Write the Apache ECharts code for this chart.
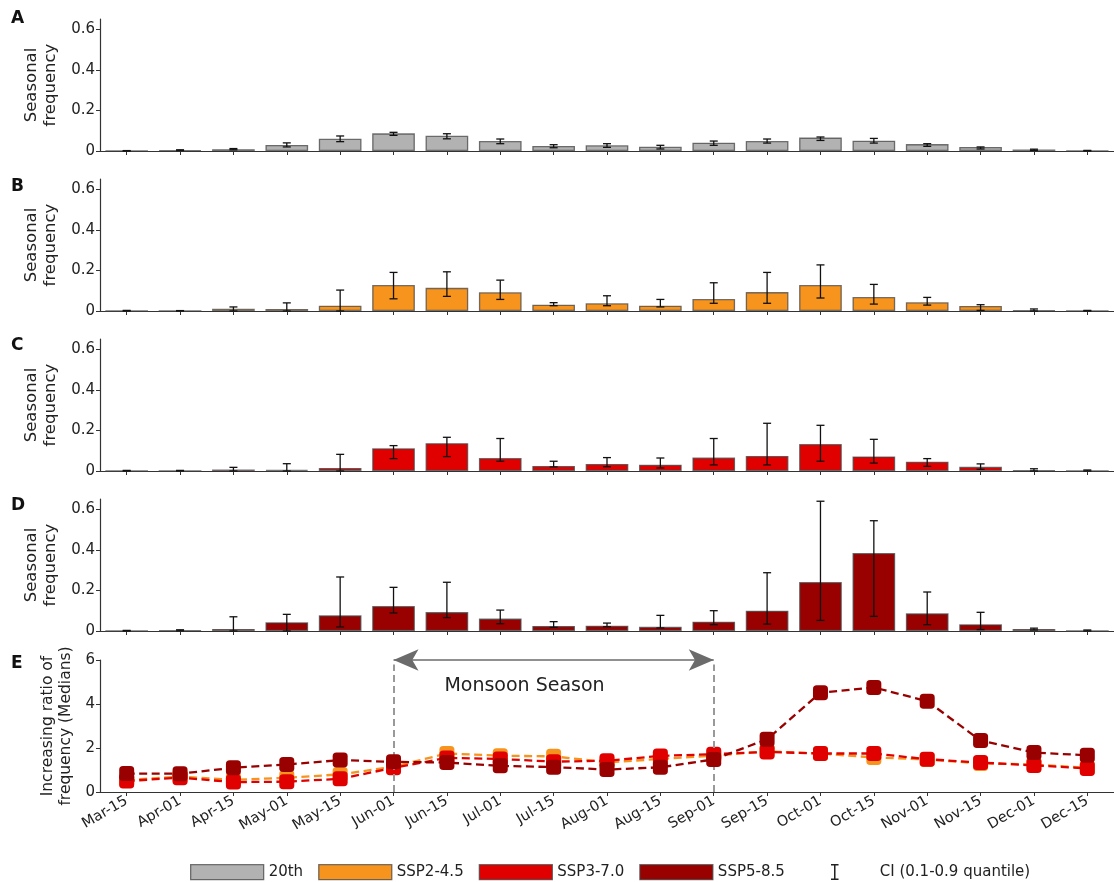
<!DOCTYPE html>
<html>
<head>
<meta charset="utf-8">
<script src="https://cdn.jsdelivr.net/npm/echarts@6/dist/echarts.min.js"></script>
<style>
html,body{margin:0;padding:0;background:#fff;}
#chart{width:1114px;height:882px;}
</style>
</head>
<body>
<div id="chart"></div>
<script>
const categories = ['Mar-15','Apr-01','Apr-15','May-01','May-15','Jun-01','Jun-15','Jul-01','Jul-15','Aug-01','Aug-15','Sep-01','Sep-15','Oct-01','Oct-15','Nov-01','Nov-15','Dec-01','Dec-15'];

// Panel A: 20th century
const med20th  = [0.001,0.004,0.009,0.030,0.060,0.087,0.075,0.049,0.025,0.028,0.021,0.041,0.049,0.066,0.051,0.034,0.020,0.007,0.002];
const low20th  = [0,0.002,0.006,0.020,0.046,0.077,0.060,0.036,0.016,0.018,0.010,0.028,0.039,0.052,0.039,0.023,0.010,0.003,0];
const high20th = [0.002,0.006,0.012,0.040,0.074,0.092,0.085,0.059,0.031,0.036,0.028,0.049,0.059,0.069,0.062,0.036,0.020,0.009,0.003];

// Panel B: SSP2-4.5
const med245  = [0,0,0.011,0.010,0.026,0.128,0.114,0.092,0.031,0.038,0.026,0.059,0.093,0.128,0.069,0.043,0.025,0.003,0.001];
const low245  = [0,0,0,0,0,0.060,0.072,0.057,0.026,0.026,0.020,0.038,0.038,0.064,0.034,0.029,0.003,0,0];
const high245 = [0.003,0.002,0.020,0.040,0.103,0.190,0.193,0.152,0.041,0.075,0.057,0.139,0.190,0.227,0.131,0.067,0.031,0.010,0.003];

// Panel C: SSP3-7.0
const med370  = [0,0,0.008,0.005,0.015,0.112,0.137,0.064,0.025,0.035,0.031,0.066,0.074,0.133,0.072,0.046,0.021,0.003,0];
const low370  = [0,0,0,0,0,0.061,0.071,0.048,0.020,0.021,0.015,0.030,0.030,0.048,0.039,0.023,0.008,0,0];
const high370 = [0.003,0.003,0.018,0.036,0.082,0.125,0.166,0.160,0.048,0.066,0.064,0.160,0.235,0.225,0.156,0.061,0.035,0.011,0.005];

// Panel D: SSP5-8.5
const med585  = [0,0.003,0.010,0.043,0.077,0.123,0.093,0.061,0.025,0.026,0.021,0.046,0.100,0.241,0.384,0.087,0.033,0.010,0];
const low585  = [0,0.001,0,0,0.020,0.089,0.066,0.036,0.018,0.021,0.015,0.031,0.034,0.052,0.072,0.031,0.007,0.005,0];
const high585 = [0.003,0.006,0.070,0.082,0.266,0.215,0.240,0.103,0.046,0.039,0.077,0.100,0.287,0.639,0.543,0.192,0.092,0.014,0.005];

// Panel E: increasing ratio of frequency (medians)
const ratio245 = [0.55,0.70,0.55,0.65,0.80,1.15,1.75,1.65,1.62,1.35,1.50,1.65,1.85,1.75,1.57,1.48,1.30,1.25,1.10];
const ratio370 = [0.50,0.65,0.45,0.47,0.60,1.10,1.55,1.50,1.38,1.42,1.64,1.72,1.82,1.75,1.75,1.49,1.34,1.21,1.07];
const ratio585 = [0.84,0.83,1.10,1.25,1.45,1.37,1.34,1.19,1.13,1.02,1.12,1.48,2.40,4.51,4.75,4.13,2.34,1.79,1.67];

const yTicksBars = [0, 0.2, 0.4, 0.6];
const yTicksRatio = [0, 2, 4, 6];

const FONT = 'DejaVu Sans';
const C_GRAY = '#b2b2b2', C_ORANGE = '#f7941d', C_RED = '#e00000', C_DARK = '#990000';
const CI_NAME = 'CI (0.1-0.9 quantile)';

const chart = echarts.init(document.getElementById('chart'), null, {renderer:'canvas'});

const gridTops = [19, 179, 339, 499, 660];
const grids = gridTops.map(t => ({left:100, width:1017, top:t, height:132, containLabel:false}));

const axisLineStyle = {lineStyle:{color:'#333', width:1.2}};
const xAxes = gridTops.map((t, i) => ({
  type:'category', gridIndex:i, data:categories, boundaryGap:true,
  axisLine:axisLineStyle,
  axisTick:{show:true, alignWithLabel:true, interval:0, length:4, lineStyle:{color:'#333', width:1}},
  axisLabel: i < 4 ? {show:false} : {show:true, interval:0, rotate:30, fontSize:14.5, color:'#222', fontFamily:FONT, margin:8},
  splitLine:{show:false}
}));
const yAxes = gridTops.map((t, i) => {
  const isE = i === 4;
  const ticks = isE ? yTicksRatio : yTicksBars;
  return {
    type:'value', gridIndex:i, min:0, max: isE ? 6 : 0.65, interval: isE ? 2 : 0.2,
    name: isE ? 'Increasing ratio of\nfrequency (Medians)' : 'Seasonal\nfrequency',
    nameLocation:'middle', nameGap: isE ? 19 : 33, nameRotate:90,
    nameTextStyle:{fontSize: isE ? 15.5 : 16.5, color:'#222', fontFamily:FONT, lineHeight: isE ? 18 : 19},
    axisLine:{show:true, lineStyle:{color:'#333', width:1.2}},
    axisTick:{show:true, length:4, lineStyle:{color:'#333'}},
    axisLabel:{fontSize:15, color:'#222', fontFamily:FONT, margin:5,
      showMaxLabel: isE,
      formatter: v => ticks.indexOf(Math.round(v*100)/100) >= 0 ? String(Math.round(v*100)/100) : ''},
    splitLine:{show:false}
  };
});

function errRender(params, api){
  const x = api.coord([api.value(0), 0])[0];
  const lo = api.coord([api.value(0), api.value(1)])[1];
  const hi = api.coord([api.value(0), api.value(2)])[1];
  const hw = 4;
  const style = {stroke:'#111', lineWidth:1.3};
  return {type:'group', children:[
    {type:'line', shape:{x1:x, y1:lo, x2:x, y2:hi}, style:style},
    {type:'line', shape:{x1:x-hw, y1:hi, x2:x+hw, y2:hi}, style:style},
    {type:'line', shape:{x1:x-hw, y1:lo, x2:x+hw, y2:lo}, style:style}
  ]};
}

const barSets = [
  {name:'20th', color:C_GRAY, med:med20th, low:low20th, high:high20th},
  {name:'SSP2-4.5', color:C_ORANGE, med:med245, low:low245, high:high245},
  {name:'SSP3-7.0', color:C_RED, med:med370, low:low370, high:high370},
  {name:'SSP5-8.5', color:C_DARK, med:med585, low:low585, high:high585}
];

const series = [];
barSets.forEach((s, i) => {
  series.push({
    type:'bar', name:s.name, xAxisIndex:i, yAxisIndex:i, data:s.med, barWidth:'80%',
    itemStyle:{color:s.color, borderColor:'rgba(70,70,70,0.75)', borderWidth:1.3},
    animation:false, silent:true
  });
});
barSets.forEach((s, i) => {
  series.push({
    type:'custom', name:CI_NAME, xAxisIndex:i, yAxisIndex:i,
    data: categories.map((c, k) => [k, s.low[k], s.high[k]]),
    renderItem: errRender, itemStyle:{color:'#111'}, animation:false, silent:true, z:5
  });
});

const lineSets = [
  {name:'SSP2-4.5', color:C_ORANGE, data:ratio245},
  {name:'SSP3-7.0', color:C_RED, data:ratio370},
  {name:'SSP5-8.5', color:C_DARK, data:ratio585}
];
lineSets.forEach((s, i) => {
  const ser = {
    type:'line', name:s.name, xAxisIndex:4, yAxisIndex:4, data:s.data,
    symbol:'roundRect', symbolSize:15, showSymbol:true,
    itemStyle:{color:s.color}, lineStyle:{color:s.color, width:2.3, type:[8,4.5]},
    animation:false, silent:true, z:3 + i
  };
  if (i === 0) {
    ser.markLine = {
      silent:true, animation:false, label:{show:false}, symbol:['none','none'],
      data:[
        [{coord:['Jun-01', 6], symbol:'arrow', symbolSize:[16,25], lineStyle:{color:'#6b6b6b', width:1.6, type:'solid'}},
         {coord:['Sep-01', 6], symbol:'arrow', symbolSize:[16,25]}],
        [{coord:['Jun-01', 0], symbol:'none', lineStyle:{color:'#999', width:2, type:[7,4]}},
         {coord:['Jun-01', 5.8], symbol:'none'}],
        [{coord:['Sep-01', 0], symbol:'none', lineStyle:{color:'#999', width:2, type:[7,4]}},
         {coord:['Sep-01', 5.8], symbol:'none'}]
      ]
    };
    ser.markPoint = {
      silent:true, animation:false, symbol:'circle', symbolSize:1,
      itemStyle:{color:'rgba(0,0,0,0)'},
      label:{show:true, formatter:'Monsoon Season', position:'right', distance:-3, fontSize:19, color:'#222', fontFamily:FONT},
      data:[{coord:['Jun-15', 4.82]}]
    };
  }
  series.push(ser);
});

const letters = ['A','B','C','D','E'];
const letterTops = [10, 178, 337, 497, 655];
const graphic = letters.map((L, i) => ({
  type:'text', left:11, top:letterTops[i],
  style:{text:L, font:'bold 17px "DejaVu Sans"', fill:'#111'}
}));

const option = {
  animation:false,
  textStyle:{fontFamily:FONT},
  grid:grids, xAxis:xAxes, yAxis:yAxes, series:series, graphic:graphic,
  legend:[
    {left:190, top:864, padding:0, itemWidth:73, itemHeight:15, itemGap:15, selectedMode:false,
     textStyle:{fontSize:15, color:'#222', fontFamily:FONT},
     itemStyle:{borderColor:'rgba(70,70,70,0.75)', borderWidth:1.3},
     data:[{name:'20th', icon:'rect'},{name:'SSP2-4.5', icon:'rect'},{name:'SSP3-7.0', icon:'rect'},{name:'SSP5-8.5', icon:'rect'}]},
    {left:831, top:864, padding:0, itemWidth:12, itemHeight:16, selectedMode:false,
     textStyle:{fontSize:15, color:'#222', fontFamily:FONT, padding:[0,0,0,34]},
     data:[{name:CI_NAME, icon:'path://M0,0H8V1.5H4.8V15.5H8V17H0V15.5H3.2V1.5H0Z', itemStyle:{color:'#222', borderWidth:0}}]}
  ]
};
chart.setOption(option);
</script>
</body>
</html>
